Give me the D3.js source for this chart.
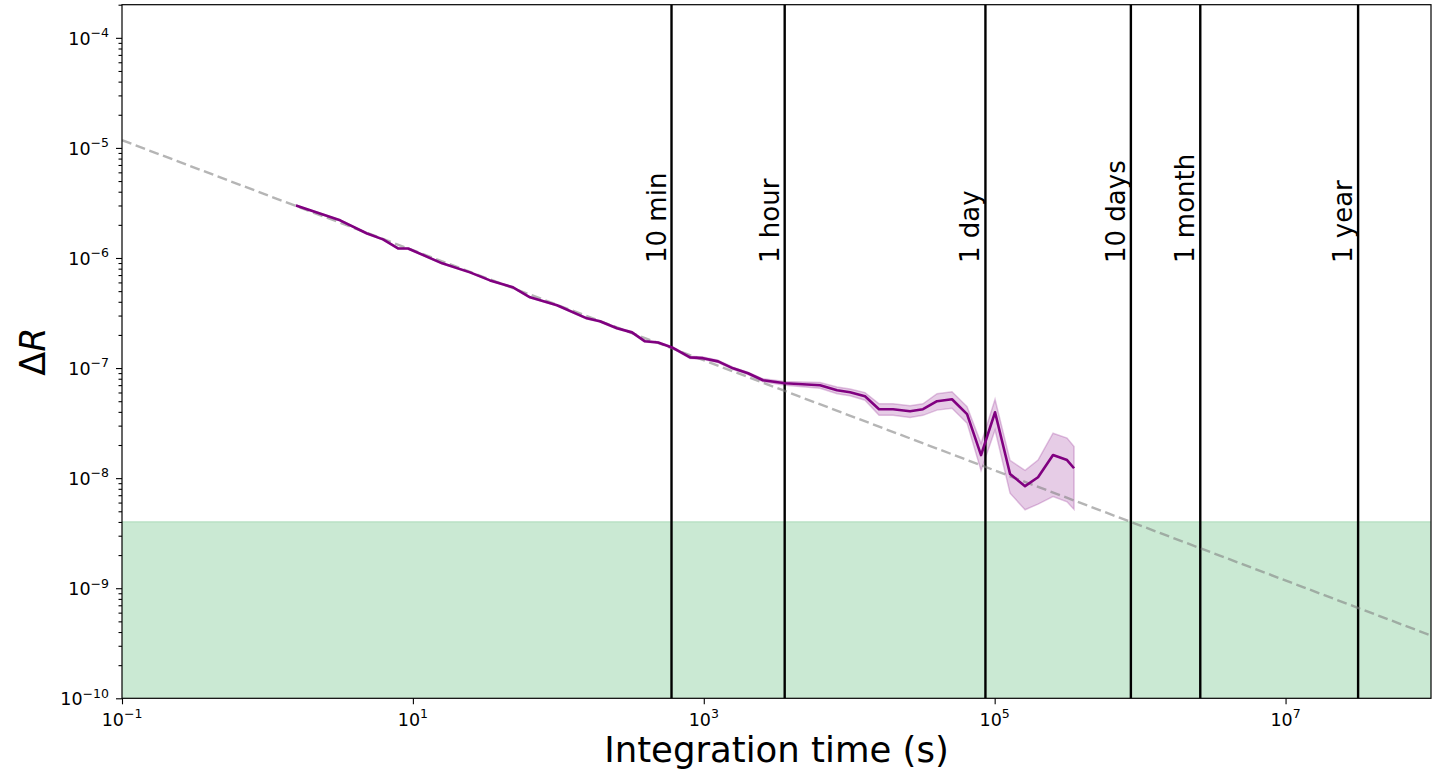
<!DOCTYPE html>
<html>
<head>
<meta charset="utf-8">
<script src="https://cdn.jsdelivr.net/npm/d3@7"></script>
<style>
  html, body { margin: 0; padding: 0; background: #ffffff; }
  svg { display: block; font-family: "DejaVu Sans", sans-serif; }
</style>
</head>
<body>
<svg id="chart" width="1437" height="772"></svg>
<script>
// ---------------- data ----------------
const integrationTime = [1.57, 3.16, 4.84, 6.23, 7.90, 9.26, 15.9, 24.7, 33.9, 48.8,
  63.9, 97.9, 157, 193, 253, 321, 394, 485, 605, 804,
  988, 1253, 1589, 2014, 2555, 3620, 6300, 8250, 10130, 12840,
  16030, 20000, 26200, 32150, 40150, 50900, 64600, 80600, 100600, 127600,
  161800, 198700, 251900, 314500, 351400];
const deltaR = [3.00e-6, 2.20e-6, 1.67e-6, 1.476e-6, 1.223e-6, 1.22e-6, 8.94e-7, 7.40e-7, 6.26e-7, 5.41e-7,
  4.39e-7, 3.72e-7, 2.83e-7, 2.66e-7, 2.30e-7, 2.11e-7, 1.75e-7, 1.71e-7, 1.54e-7, 1.25e-7,
  1.23e-7, 1.15e-7, 9.95e-8, 8.97e-8, 7.75e-8, 7.28e-8, 6.98e-8, 6.28e-8, 6.03e-8, 5.55e-8,
  4.23e-8, 4.23e-8, 4.05e-8, 4.23e-8, 5.00e-8, 5.21e-8, 3.81e-8, 1.62e-8, 3.97e-8, 1.09e-8,
  8.46e-9, 1.02e-8, 1.62e-8, 1.46e-8, 1.23e-8];
const deltaRErr = [3.0e-8, 2.2e-8, 1.67e-8, 1.5e-8, 1.2e-8, 1.2e-8, 8.9e-9, 7.4e-9, 6.3e-9, 5.4e-9,
  4.4e-9, 3.7e-9, 4.2e-9, 4.0e-9, 3.5e-9, 3.2e-9, 2.6e-9, 2.6e-9, 2.3e-9, 3.1e-9,
  3.1e-9, 2.9e-9, 2.5e-9, 2.2e-9, 2.3e-9, 2.9e-9, 4.2e-9, 4.4e-9, 4.2e-9, 4.4e-9,
  5.1e-9, 5.1e-9, 4.9e-9, 5.1e-9, 8.5e-9, 8.9e-9, 6.5e-9, 4.5e-9, 1.23e-8, 3.6e-9,
  3.3e-9, 4.4e-9, 9.4e-9, 8.5e-9, 7.1e-9];

const markerLabels = ["10 min", "1 hour", "1 day", "10 days", "1 month", "1 year"];
const markerSeconds = [600, 3600, 86400, 864000, 2592000, 31536000];

const refCoefficient = 3.718e-6;   // ΔR = c * t^-0.5
const refExponent = -0.5;
const threshold = 4e-9;

const xDomain = [1e-1, 1e8];
const yDomain = [1e-10, 2e-4];
const xTickValues = [1e-1, 1e1, 1e3, 1e5, 1e7];
const xTickExponents = ["−1", "1", "3", "5", "7"];
const yTickValues = [1e-10, 1e-9, 1e-8, 1e-7, 1e-6, 1e-5, 1e-4];
const yTickExponents = ["−10", "−9", "−8", "−7", "−6", "−5", "−4"];

// ---------------- layout ----------------
const pLeft = 122, pRight = 1431, pTop = 4.7, pBottom = 698.3;
const svg = d3.select("#chart");

const x = d3.scaleLog().domain(xDomain).range([pLeft, pRight]);
const y = d3.scaleLog().domain(yDomain).range([pBottom, pTop]);

svg.append("defs").append("clipPath").attr("id", "plotclip")
  .append("rect").attr("x", pLeft).attr("y", pTop)
  .attr("width", pRight - pLeft).attr("height", pBottom - pTop);

const plot = svg.append("g").attr("clip-path", "url(#plotclip)");

// green region below the threshold
plot.append("rect")
  .attr("x", x(xDomain[0])).attr("width", x(xDomain[1]) - x(xDomain[0]))
  .attr("y", y(threshold)).attr("height", y(yDomain[0]) - y(threshold))
  .attr("fill", "#cae9d3");
plot.append("line")
  .attr("x1", x(xDomain[0])).attr("x2", x(xDomain[1]))
  .attr("y1", y(threshold)).attr("y2", y(threshold))
  .attr("stroke", "#b9e0c4").attr("stroke-width", 1.5);

// data band
const pts = integrationTime.map((t, i) => ({t: t, v: deltaR[i], e: deltaRErr[i]}));
plot.append("path")
  .datum(pts)
  .attr("d", d3.area().x(d => x(d.t)).y0(d => y(d.v - d.e)).y1(d => y(d.v + d.e)))
  .attr("fill", "#800080").attr("fill-opacity", 0.2)
  .attr("stroke", "#800080").attr("stroke-opacity", 0.22).attr("stroke-width", 1.5);

// vertical time markers
plot.selectAll("line.marker").data(markerSeconds).enter().append("line")
  .attr("class", "marker")
  .attr("x1", d => x(d)).attr("x2", d => x(d))
  .attr("y1", pTop).attr("y2", pBottom)
  .attr("stroke", "#000").attr("stroke-width", 2.4);

// reference t^-1/2 line
const refPts = xDomain.map(t => ({t: t, v: refCoefficient * Math.pow(t, refExponent)}));
plot.append("path")
  .datum(refPts)
  .attr("d", d3.line().x(d => x(d.t)).y(d => y(d.v)))
  .attr("fill", "none")
  .attr("stroke", "#808080").attr("stroke-opacity", 0.58)
  .attr("stroke-width", 2.4).attr("stroke-dasharray", "10,4.6");

// data line
plot.append("path")
  .datum(pts)
  .attr("d", d3.line().x(d => x(d.t)).y(d => y(d.v)))
  .attr("fill", "none")
  .attr("stroke", "#800080").attr("stroke-width", 2.6)
  .attr("stroke-linejoin", "round");

// marker labels
svg.selectAll("text.mlabel").data(markerSeconds).enter().append("text")
  .attr("class", "mlabel")
  .attr("transform", d => `translate(${x(d) - 6},263) rotate(-90)`)
  .attr("text-anchor", "start")
  .attr("font-size", 26)
  .attr("fill", "#000")
  .text((d, i) => markerLabels[i]);

// ---------------- axes ----------------
const yMinor = [];
for (let p = -10; p < -3; p++) {
  for (let m = 2; m <= 9; m++) {
    const v = m * Math.pow(10, p);
    if (v <= yDomain[1]) yMinor.push(v);
  }
}
const yAxisMajor = svg.append("g").attr("transform", `translate(${pLeft},0)`)
  .call(d3.axisLeft(y).tickValues(yTickValues).tickFormat("").tickSize(6).tickSizeOuter(0));
const yAxisMinor = svg.append("g").attr("transform", `translate(${pLeft},0)`)
  .call(d3.axisLeft(y).tickValues(yMinor).tickFormat("").tickSize(3.5).tickSizeOuter(0));
const xAxisMajor = svg.append("g").attr("transform", `translate(0,${pBottom})`)
  .call(d3.axisBottom(x).tickValues(xTickValues).tickFormat("").tickSize(6).tickSizeOuter(0));

[yAxisMajor, yAxisMinor, xAxisMajor].forEach(g => {
  g.select(".domain").remove();
  g.selectAll(".tick line").attr("stroke", "#000").attr("stroke-width", 1.1);
});

yTickValues.forEach((v, i) => {
  const t = svg.append("text")
    .attr("x", pLeft - 13).attr("y", y(v) + 6.8)
    .attr("text-anchor", "end").attr("font-size", 17.5).attr("fill", "#000");
  t.append("tspan").text("10");
  t.append("tspan").attr("font-size", 12.5).attr("dy", -7.5).text(yTickExponents[i]);
});
xTickValues.forEach((v, i) => {
  const t = svg.append("text")
    .attr("x", x(v)).attr("y", 725.5)
    .attr("text-anchor", "middle").attr("font-size", 17.5).attr("fill", "#000");
  t.append("tspan").text("10");
  t.append("tspan").attr("font-size", 12.5).attr("dy", -7.5).text(xTickExponents[i]);
});

// frame
svg.append("rect")
  .attr("x", pLeft).attr("y", pTop).attr("width", pRight - pLeft).attr("height", pBottom - pTop)
  .attr("fill", "none").attr("stroke", "#000").attr("stroke-width", 1.2);

// axis titles
svg.append("text")
  .attr("x", (pLeft + pRight) / 2).attr("y", 762)
  .attr("text-anchor", "middle").attr("font-size", 35.5).attr("fill", "#000")
  .text("Integration time (s)");

const yl = svg.append("text")
  .attr("transform", `translate(45,${(pTop + pBottom) / 2}) rotate(-90)`)
  .attr("text-anchor", "middle").attr("font-size", 35).attr("fill", "#000");
yl.append("tspan").text("Δ");
yl.append("tspan").attr("font-style", "italic").text("R");
</script>
</body>
</html>
